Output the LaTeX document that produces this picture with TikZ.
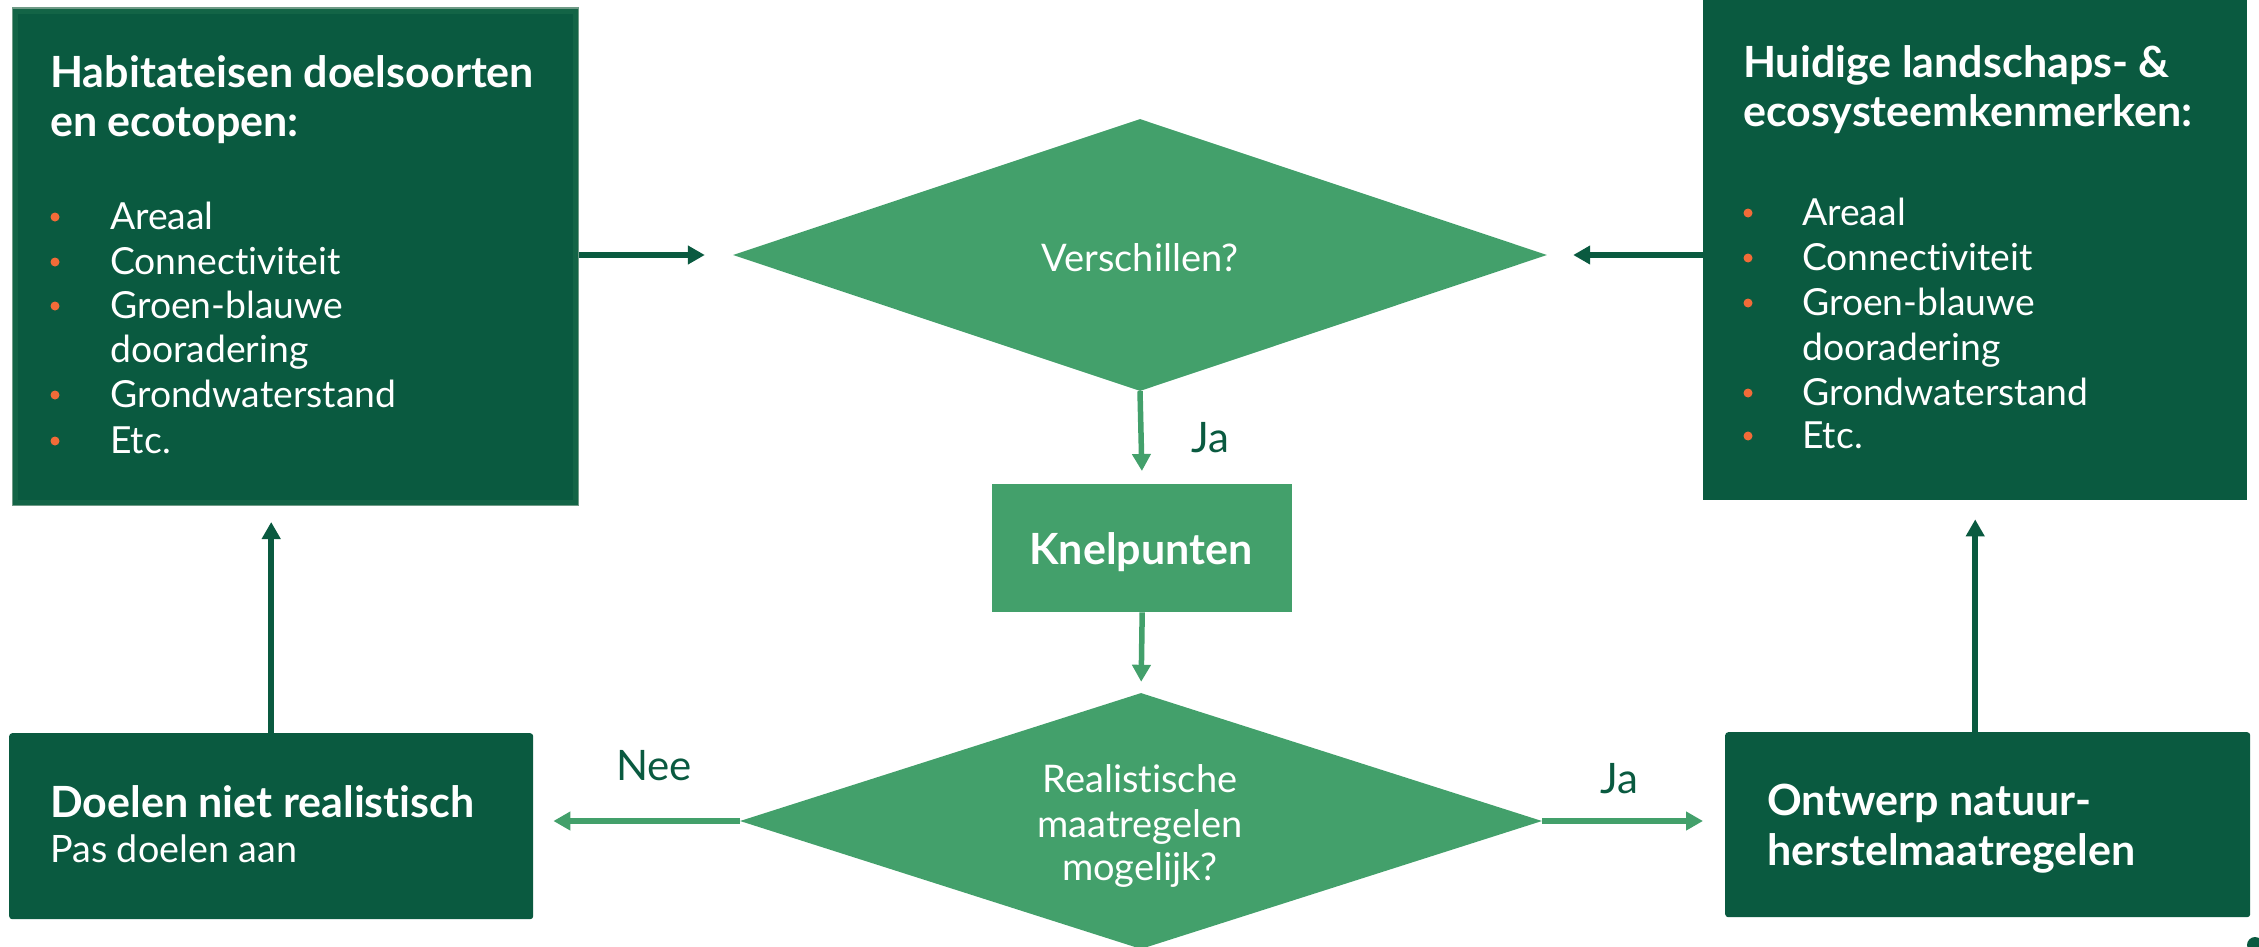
\documentclass[tikz,border=0pt]{standalone}
\usepackage{fontspec}
\setmainfont{Lato}[Ligatures={NoCommon}]
\usetikzlibrary{shapes.geometric,arrows.meta}
\definecolor{dkg}{HTML}{0A5A40}
\definecolor{mdg}{HTML}{43A06B}
\definecolor{org}{HTML}{F26B38}
\definecolor{edg}{HTML}{6F9A86}
\definecolor{ing}{HTML}{136446}
\begin{document}
\begin{tikzpicture}[x=1pt,y=-1pt,
  darkbox/.style={fill=dkg, draw=none, inner sep=0, anchor=north west},
  midbox/.style={fill=mdg, draw=none, inner sep=0, anchor=north west},
  dec/.style={diamond, fill=mdg, inner sep=0, shape aspect=3},
  ttl/.style={anchor=base west, inner sep=0, text=white, font=\fontsize{43}{49}\bfseries\selectfont},
  listtext/.style={anchor=base west, inner sep=0, text=white, font=\fontsize{37.3}{44}\selectfont},
  dtext/.style={anchor=base, inner sep=0, text=white, font=\fontsize{38}{44}\selectfont},
  btitle/.style={anchor=base west, inner sep=0, text=white, font=\fontsize{43}{50}\bfseries\selectfont},
  lbl/.style={anchor=base west, inner sep=0, text=dkg, font=\fontsize{42}{48}\selectfont},
  arrd/.style={draw=dkg, line width=5.5pt, -{Triangle[length=17pt,width=18pt]}},
  arrm/.style={draw=mdg, line width=5.5pt, -{Triangle[length=17pt,width=18pt]}}
]
\useasboundingbox (0,0) rectangle (2259,947);

% boxes
\node[darkbox, draw=edg, line width=1.5pt, minimum width=566pt, minimum height=497pt] (hab) at (11.5,7.5) {};
\draw[ing, line width=5pt] ([shift={(4,-4)}]hab.south west) rectangle ([shift={(-4,4)}]hab.north east);
\node[darkbox, minimum width=544pt, minimum height=510pt] (huid) at (1703,-10) {};
\node[darkbox, rounded corners=3pt, minimum width=524pt, minimum height=186pt] (doel) at (9,733) {};
\node[darkbox, rounded corners=3pt, minimum width=525pt, minimum height=185pt] (ontw) at (1725,732) {};
\node[midbox, minimum width=300pt, minimum height=128pt] (kn) at (992,484) {};
\node[dec, minimum width=814pt, minimum height=272pt] (d1) at (1140,255) {};
\node[dec, minimum width=802pt, minimum height=256pt] (d2) at (1141,821) {};

% texts in top-left box
\node[ttl] (habt1) at (50,88) {Habitateisen doelsoorten};
\node[ttl] (habt2) at (50,137) {en ecotopen:};
\foreach \t/\y/\b [count=\i] in {Areaal/229/1, Connectiviteit/274/1, Groen-blauwe/318/1, dooradering/362/0, Grondwaterstand/407/1, Etc./453/1} {
  \node[listtext] (hl\i) at (110,\y) {\t};
  \ifnum\b=1 \fill[org] (55,{\y-12}) circle (4.5pt); \fi
}

% texts in top-right box
\node[ttl] (huidt1) at (1743,78) {Huidige landschaps- \&};
\node[ttl] (huidt2) at (1743,127) {ecosysteemkenmerken:};
\foreach \t/\y/\b [count=\i] in {Areaal/225/1, Connectiviteit/270/1, Groen-blauwe/315/1, dooradering/360/0, Grondwaterstand/405/1, Etc./448/1} {
  \node[listtext] (hr\i) at (1802,\y) {\t};
  \ifnum\b=1 \fill[org] (1748,{\y-12}) circle (4.5pt); \fi
}

% centre texts
\node[dtext] (d1t) at (1140,271) {Verschillen?};
\node[anchor=base, inner sep=0, text=white, font=\fontsize{43}{48}\bfseries\selectfont] (knt) at (1141,564) {Knelpunten};
\node[dtext] (d2t1) at (1140,792) {Realistische};
\node[dtext] (d2t2) at (1140,837) {maatregelen};
\node[dtext] (d2t3) at (1140,880) {mogelijk?};

% bottom boxes texts
\node[btitle] (doelt1) at (50,817) {Doelen niet realistisch};
\node[anchor=base west, inner sep=0, text=white, font=\fontsize{37.7}{44}\selectfont] (doelt2) at (50,862) {Pas doelen aan};
\node[btitle] (ontwt1) at (1767,815) {Ontwerp natuur-};
\node[btitle] (ontwt2) at (1767,865) {herstelmaatregelen};

% labels
\node[lbl] (ja1) at (1191,452) {Ja};
\node[lbl] (nee) at (616,780) {Nee};
\node[lbl] (ja2) at (1600,793) {Ja};

% connectors
\draw[arrd, shorten >=28pt] (hab.east |- d1.west) -- (d1.west);
\draw[arrd, shorten >=26pt] (huid.west |- d1.east) -- (d1.east);
\draw[arrm, shorten >=13pt] (d1.south) -- (kn.north);
\draw[arrm, shorten >=11pt] (kn.south) -- (d2.north);
\draw[arrm, shorten >=20pt] (d2.west) -- (doel.east |- d2.west);
\draw[arrm, shorten >=22pt] (d2.east) -- (ontw.west |- d2.east);
\draw[arrd, shorten >=16pt] (doel.north) -- (doel.north |- hab.south);
\draw[arrd, shorten >=19pt] (ontw.north -| huid.south) -- (huid.south);

% stray dot at the lower right corner
\fill[dkg] (2255,945) circle (8pt);
\end{tikzpicture}
\end{document}
